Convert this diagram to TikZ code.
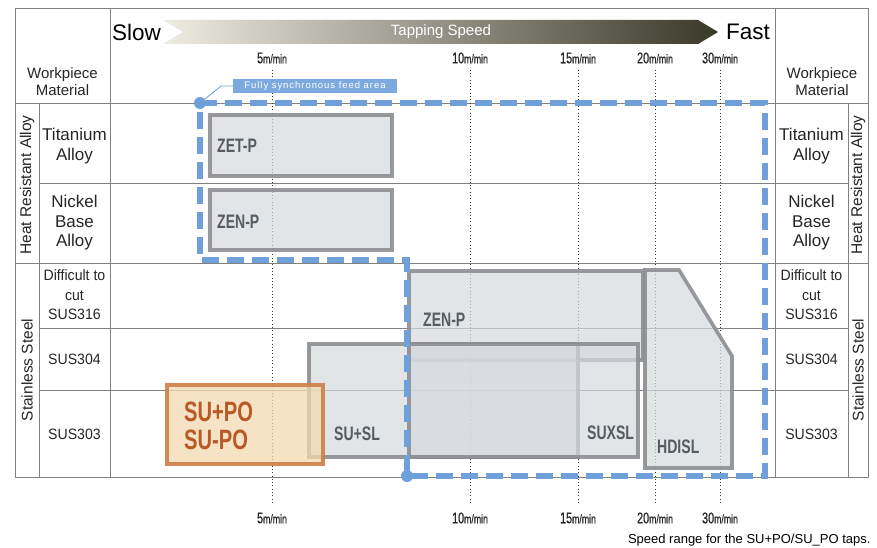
\documentclass[tikz,border=0pt]{standalone}
\usepackage{fontspec}
\setmainfont{Liberation Sans}
\newfontfamily\condfont[FakeStretch=0.72]{Liberation Sans}
\newfontfamily\speedfont[FakeStretch=0.7, FakeBold=0.5]{Liberation Sans}
\newfontfamily\narrowfont[FakeStretch=0.94]{Liberation Sans}
\newfontfamily\widefont[LetterSpace=10]{Liberation Sans}
\usetikzlibrary{arrows,positioning}
\pgfdeclarelayer{background}
\pgfsetlayers{background,main}
\definecolor{linegray}{HTML}{808080}
\definecolor{boxfill}{HTML}{D6DADF}
\definecolor{boxline}{HTML}{8C8E92}
\definecolor{boxtext}{HTML}{575C62}
\definecolor{pofill}{HTML}{F3D9B1}
\definecolor{poline}{HTML}{D07F48}
\definecolor{potext}{HTML}{B85A26}
\definecolor{syncblue}{HTML}{6FA0DA}
\definecolor{barlight}{HTML}{EFECE2}
\definecolor{bardark}{HTML}{393829}
\newcommand{\mpermin}[1]{{\fontsize{15.5}{15.5}\selectfont #1}{\fontsize{12.5}{12.5}\selectfont m/min}}
\tikzstyle{tableline} = [draw=linegray, line width=0.9pt]
\tikzstyle{speedline} = [draw=black!80, line width=0.9pt, dash pattern=on 0.9pt off 2.4pt]
\tikzstyle{speed} = [font=\speedfont, text=black!85, inner sep=1pt]
\tikzstyle{endlabel} = [font=\fontsize{22.5}{23}\selectfont, inner sep=0pt]
\tikzstyle{bartext} = [font=\fontsize{15}{15}\selectfont, text=white]
\tikzstyle{material} = [font=\fontsize{17}{19.5}\selectfont, align=center, text=black!85]
\tikzstyle{header} = [font=\fontsize{15}{17}\selectfont, align=center, text=black!85]
\tikzstyle{steel} = [font=\narrowfont\fontsize{15}{19.5}\selectfont, align=center, text=black!85]
\tikzstyle{grouplabel} = [font=\fontsize{15.5}{16}\selectfont, rotate=90, text=black!85]
\tikzstyle{toolbox} = [fill=boxfill, fill opacity=0.7, draw=boxline, draw opacity=0.9, line width=3.6pt]
\tikzstyle{pobox} = [fill=pofill, fill opacity=0.75, draw=poline, draw opacity=0.9, line width=3.6pt]
\tikzstyle{tool} = [font=\condfont\bfseries\fontsize{19.5}{19.5}\selectfont, text=boxtext, anchor=west, inner sep=0pt]
\tikzstyle{potool} = [font=\condfont\bfseries\fontsize{28}{28}\selectfont, text=potext, anchor=west, align=left, inner sep=0pt]
\tikzstyle{syncline} = [draw=syncblue, line width=5.5pt, dash pattern=on 17pt off 8pt]
\tikzstyle{syncdot} = [circle, fill=syncblue, minimum size=12pt, inner sep=0pt]
\tikzstyle{synctag} = [fill=syncblue!90, text=white, font=\widefont\fontsize{9.5}{9.5}\selectfont, minimum width=164pt, minimum height=14pt, inner sep=0pt]
\tikzstyle{syncthin} = [draw=syncblue, line width=0.8pt]

\begin{document}
\begin{tikzpicture}[x=1pt, y=-1pt]
	\useasboundingbox[fill=white] (0,0) rectangle (877,548);

	% First we draw the tapping speed bar
	\shade[left color=barlight, right color=bardark] (163,20) -- (698,20) -- (718,32) -- (698,44) -- (163,44) -- (183,32) -- cycle;
	\node[endlabel, anchor=west] (slow) at (112,32) {Slow};
	\node[endlabel, anchor=east] (fast) at (770,32) {Fast};
	\node[bartext] (tapping) at (441,32) {Tapping Speed};

	% Table frame and row lines
	\draw[tableline] (15,8) rectangle (868,477);
	\foreach \x in {110,775} \draw[tableline] (\x,8) -- (\x,477);
	\foreach \x in {39,848} \draw[tableline] (\x,103) -- (\x,477);
	\foreach \y in {103,263} \draw[tableline] (15,\y) -- (868,\y);
	\foreach \y in {183,328,390} \draw[tableline] (39,\y) -- (848,\y);

	% Speed marks, top and bottom
	\foreach \x/\v/\name in {272/5/a, 470/10/b, 578/15/c, 655/20/d, 720/30/e} {
		\node[speed] (top\name) at (\x,58) {\mpermin{\v}};
		\node[speed] (bot\name) at (\x,518) {\mpermin{\v}};
		\draw[speedline, shorten <=5pt, shorten >=7pt] (top\name) -- (bot\name);
	}

	% Row and group labels on both sides
	\foreach \x/\s in {74.5/l, 811.5/r} {
		\node[material] (ti\s) at (\x,146) {Titanium\\Alloy};
		\node[material] (ni\s) at (\x,223) {Nickel\\Base\\Alloy};
		\node[steel] (sus316\s) at (\x,295) {Difficult to\\cut\\SUS316};
		\node[steel] (sus304\s) at (\x,359) {SUS304};
		\node[steel] (sus303\s) at (\x,434) {SUS303};
	}
	\foreach \x/\s in {27/l, 858/r} {
		\node[grouplabel] (heat\s) at (\x,185) {Heat Resistant Alloy};
		\node[grouplabel] (stain\s) at (\x,370) {Stainless Steel};
	}
	\node[header] (workl) at (62.5,82) {Workpiece\\Material};
	\node[header] (workr) at (822,82) {Workpiece\\Material};

	% Tap ranges
	\foreach \a/\b in {{(210,115)}/{(392,176)}, {(210,190)}/{(392,250)}, {(409,271)}/{(643,360)},
						{(309,344)}/{(578,457)}, {(409,344)}/{(638,457)}}
	\draw[toolbox] \a rectangle \b;
	\draw[toolbox] (645,270) -- (679,270) -- (732,356) -- (732,468) -- (645,468) -- cycle;
	\draw[pobox] (167,385) rectangle (323,464);

	\foreach \pos/\name/\lbl in {(217,146)/zetp/ZET-P, (217,222)/zenp/ZEN-P, (423,320)/zenpsus/ZEN-P,
								(334,434)/susl/SU+SL, (587,433)/suxsl/SUXSL, (657,447)/hdisl/HDISL}
	\node[tool] (\name) at \pos {\lbl};
	\node[potool] (supo) at (184,426) {SU+PO\\SU-PO};

	% Fully synchronous feed area
	\draw[syncline] (200,103) -- (765,103) -- (765,476) -- (407,476) -- (407,260) -- (200,260) -- cycle;
	\node[syncdot] (syncstart) at (200,103) {};
	\node[syncdot] (syncend) at (407,476) {};
	\node[synctag] (synclabel) at (315,86) {Fully synchronous feed area};
	\coordinate (synckink) at (221,86);
	\draw[syncthin] (syncstart) -- (synckink) -- (synclabel.west);

	\node[anchor=east, font=\fontsize{13}{13}\selectfont] (caption) at (874,540) {Speed range for the SU+PO/SU\_PO taps.};
\end{tikzpicture}
\end{document}
